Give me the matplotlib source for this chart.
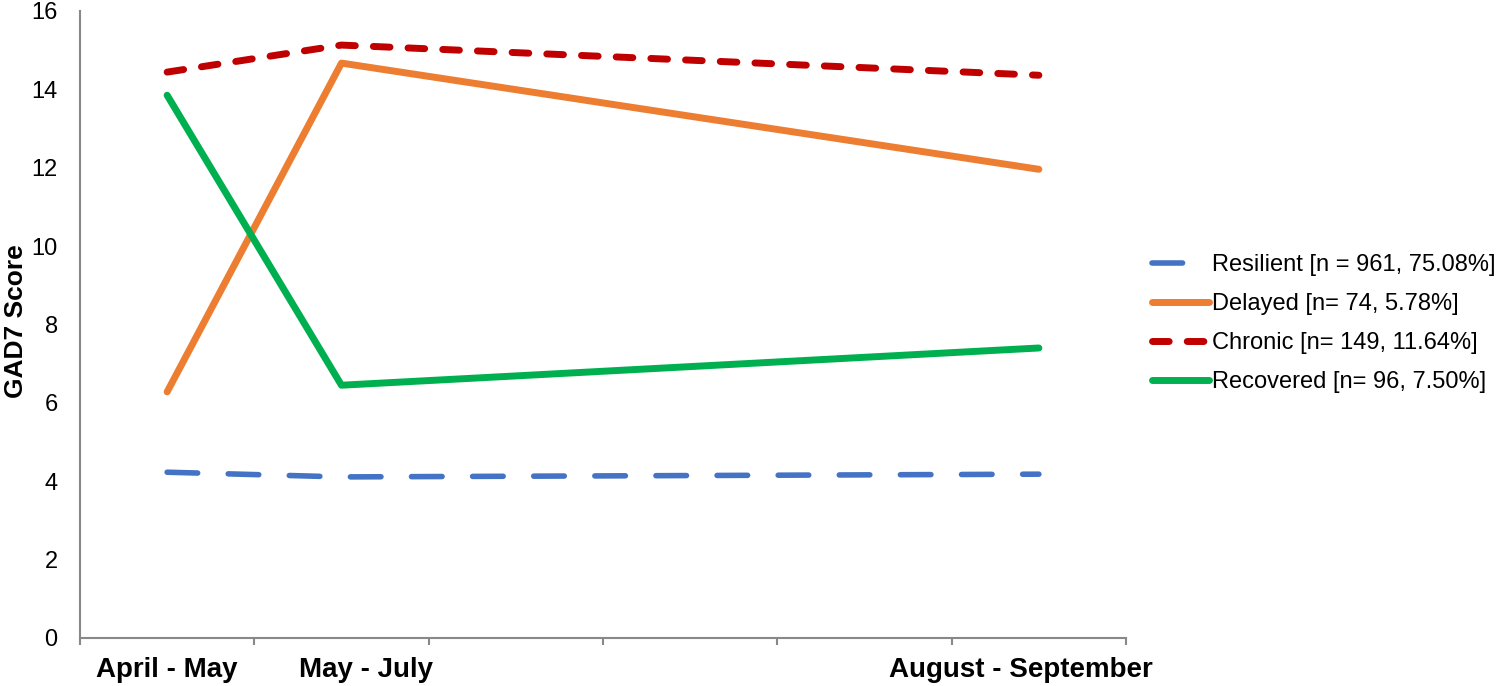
import matplotlib
matplotlib.use('Agg')
import matplotlib.pyplot as plt
from matplotlib.transforms import ScaledTranslation

plt.rcParams['font.family'] = ['Liberation Sans', 'DejaVu Sans']

periods = ['April - May', 'May - July', 'August - September']
period_pos = [0, 1, 5]

resilient = [4.23, 4.11, 4.18]
delayed = [6.28, 14.67, 11.96]
chronic = [14.44, 15.13, 14.36]
recovered = [13.85, 6.45, 7.40]

labels = ['Resilient [n = 961, 75.08%]', 'Delayed [n= 74, 5.78%]',
          'Chronic [n= 149, 11.64%]', 'Recovered [n= 96, 7.50%]']

fig = plt.figure(figsize=(15, 6.86), dpi=100)
ax = fig.add_axes([0.0533, 0.070, 0.6974, 0.914])

ax.plot(period_pos, resilient, color='#4472C4', lw=4.0, dashes=(5.5, 5.5),
        dash_capstyle='round', solid_capstyle='round', label=labels[0])
ax.plot(period_pos, delayed, color='#ED7D31', lw=5.0,
        solid_capstyle='round', label=labels[1])
ax.plot(period_pos, chronic, color='#C00000', lw=5.0, dashes=(2.4, 2.6),
        dash_capstyle='round', label=labels[2])
ax.plot(period_pos, recovered, color='#00B050', lw=5.0,
        solid_capstyle='round', label=labels[3])

ax.set_xlim(-0.5, 5.5)
ax.set_ylim(0, 16)
ax.set_yticks(range(0, 17, 2))
ax.tick_params(axis='y', length=0, labelsize=17, pad=16)

ax.set_xticks(period_pos)
ax.set_xticklabels(periods, fontsize=20, fontweight='bold')
ax.set_xticks([i - 0.5 for i in range(7)], minor=True)
ax.tick_params(axis='x', which='major', length=0, pad=14)
ax.tick_params(axis='x', which='minor', length=5, width=1.5, color='#888888')

# nudge labels like the original (excel date axis placement)
shifts = [0, 25, -18]
for lbl, dx in zip(ax.get_xticklabels(), shifts):
    lbl.set_transform(lbl.get_transform() + ScaledTranslation(dx / 100, 0, fig.dpi_scale_trans))

for s in ['top', 'right']:
    ax.spines[s].set_visible(False)
for s in ['left', 'bottom']:
    ax.spines[s].set_color('#888888')
    ax.spines[s].set_linewidth(1.5)

ax.set_ylabel('GAD7 Score', fontsize=19, fontweight='bold')
ax.yaxis.set_label_coords(-0.05, 0.505)

fig.legend(loc='center left', bbox_to_anchor=(0.768, 0.528), frameon=False,
           fontsize=17, handlelength=2.4, handletextpad=0.12, labelspacing=0.72,
           borderpad=0, borderaxespad=0)

fig.savefig('out.png', dpi=100)
